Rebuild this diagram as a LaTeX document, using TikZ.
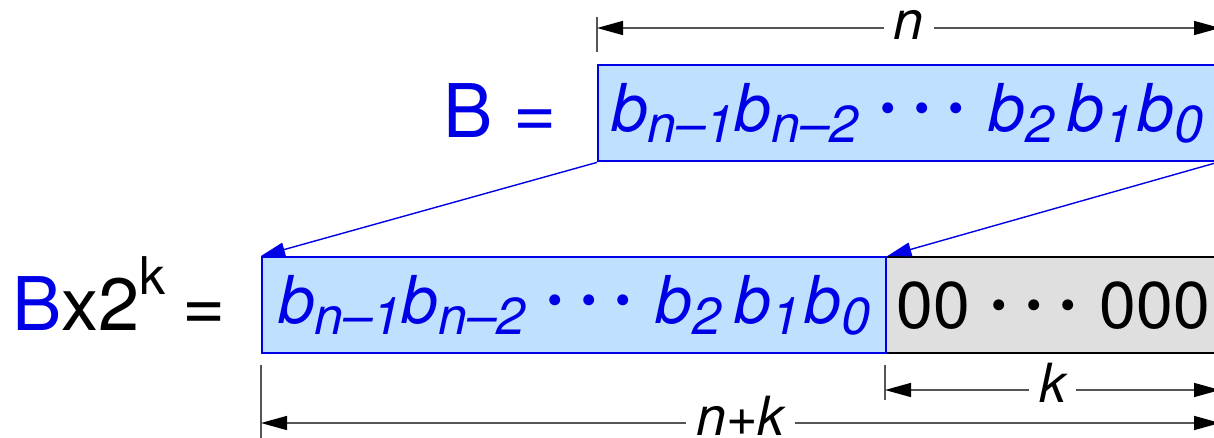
\documentclass[tikz,border=0pt]{standalone}
\usepackage{fontspec}
\setmainfont{TeX Gyre Heros}
\usepackage{tikz}
\usetikzlibrary{arrows.meta,positioning}
\definecolor{bitblue}{HTML}{0000E6}
\definecolor{bitfill}{HTML}{C0E0FF}
\definecolor{padgrey}{HTML}{DFDFDF}
\definecolor{dimgrey}{HTML}{555555}
\newcommand{\bitsub}[1]{\textit{b}\lower5.5pt\hbox{\fontsize{26}{26}\selectfont\itshape #1}}
\newcommand{\onedot}{\raisebox{4pt}{\fontsize{22}{22}\selectfont\textbullet}}
\newcommand{\bitdots}{\hspace{11pt}\onedot\hspace{9.5pt}\onedot\hspace{9.5pt}\onedot\hspace{12pt}}
\newcommand{\bitrow}{\bitsub{n–1}\bitsub{n–2}\bitdots\bitsub{2}\hspace{7pt}\bitsub{1}\hspace{2pt}\bitsub{0}}
\tikzset{
  bit box/.style   = {draw=bitblue, fill=bitfill, line width=1.2pt,
                      minimum height=48pt, text=bitblue,
                      font=\fontsize{33}{36}\selectfont},
  pad box/.style   = {draw=black, fill=padgrey, line width=1.2pt,
                      minimum height=48pt, minimum width=167pt,
                      font=\fontsize{33}{36}\selectfont},
  eq label/.style  = {font=\fontsize{37}{40}\selectfont},
  shift arrow/.style = {-{Triangle[length=12pt,width=7pt]}, bitblue,
                        line width=0.7pt},
  dim line/.style  = {{Triangle[length=13pt,width=7pt,black]}-{Triangle[length=13pt,width=7pt,black]},
                      dimgrey, line width=0.75pt},
  dim tick/.style  = {dimgrey, line width=0.75pt},
  dim label/.style = {fill=white, inner xsep=5pt, inner ysep=0pt, anchor=base,
                      yshift=-6pt, text=black, font=\fontsize{27}{30}\selectfont\itshape},
}

\begin{document}
\begin{tikzpicture}[x=0.5pt, y=-0.5pt, every node/.style={inner sep=0pt}]
    \useasboundingbox (0,0) rectangle (1214,438);
    \clip (0,0) rectangle (1214,438);
    % bit fields
    \node[bit box, minimum width=309pt, anchor=north west] (topbits) at (597,64) {\bitrow};
    \node[pad box, anchor=north west] (zeros) at (885,256) {00\bitdots000};
    \node[bit box, minimum width=312pt, anchor=north west] (lowbits) at (261,256) {\bitrow};
    \node[eq label, text=bitblue, left=20pt of topbits, yshift=1.5pt] (bname) {B =};
    \node[eq label, anchor=base east] (bshift) at ([xshift=-17.5pt, yshift=-12.5pt]lowbits.west)
      {\textcolor{bitblue}{B}x2\raisebox{18pt}{\fontsize{26}{26}\selectfont k}\hspace{-2pt} =};
    % shifted copy
    \draw[shift arrow] (topbits.south west) -- (lowbits.north west);
    \draw[shift arrow] (topbits.south east) -- (lowbits.north east);
    % widths
    \coordinate (nL) at (597,28);
    \coordinate (nR) at (1220,28);
    \coordinate (kL) at (885,390);
    \coordinate (kR) at (1220,390);
    \coordinate (nkL) at (261,423);
    \coordinate (nkR) at (1220,423);
    \draw[dim tick] (597,17) -- (597,52);
    \draw[dim tick] (885,365) -- (885,400);
    \draw[dim tick] (261,365) -- (261,440);
    \draw[dim line] (nL) -- node[dim label] (nlabel) {n} (nR);
    \draw[dim line] (kL) -- node[dim label] (klabel) {k} (kR);
    \draw[dim line] (nkL) -- node[dim label] (nklabel) {n+k} (nkR);
  \end{tikzpicture}
\end{document}
